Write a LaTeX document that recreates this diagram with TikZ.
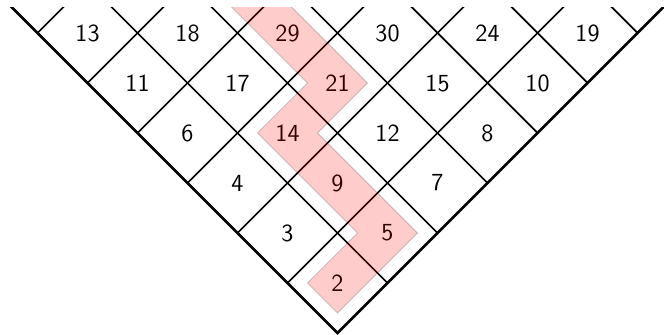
\documentclass[tikz,border=0pt]{standalone}
\usetikzlibrary{calc}
\begin{document}
\begin{tikzpicture}[
  gridline/.style={line width=1.0pt, black},
  rimline/.style={line width=1.6pt, black, line join=miter},
  num/.style={font=\sffamily\fontsize{14}{16}\selectfont, inner sep=0pt},
  pathband/.style={fill=red, draw=black, opacity=0.2, line width=0.5pt, line join=miter}
]
\useasboundingbox (0,0) rectangle (13.28,-6.7);
\coordinate (B) at (6.75,-6.66);
\clip (-1,-0.16) rectangle (14.5,-8);
% interior grid lines
\foreach \j in {1,...,6} {
  \draw[gridline] ($(B)+(\j,\j)$) -- ($(B)+(2*\j-8,8)$);
  \draw[gridline] ($(B)+(-\j,\j)$) -- ($(B)+(8-2*\j,8)$);
}
% outer rim
\draw[rimline] ($(B)+(-8,8)$) -- (B) -- ($(B)+(8,8)$);
% numbers, row 0 (bottom) to row 5 (top)
\node[num] (r0a) at ($(B)+(0,1)$) {2};
\node[num] (r1a) at ($(B)+(-1,2)$) {3};
\node[num] (r1b) at ($(B)+(1,2)$) {5};
\node[num] (r2a) at ($(B)+(-2,3)$) {4};
\node[num] (r2b) at ($(B)+(0,3)$) {9};
\node[num] (r2c) at ($(B)+(2,3)$) {7};
\node[num] (r3a) at ($(B)+(-3,4)$) {6};
\node[num] (r3b) at ($(B)+(-1,4)$) {14};
\node[num] (r3c) at ($(B)+(1,4)$) {12};
\node[num] (r3d) at ($(B)+(3,4)$) {8};
\node[num] (r4a) at ($(B)+(-4,5)$) {11};
\node[num] (r4b) at ($(B)+(-2,5)$) {17};
\node[num] (r4c) at ($(B)+(0,5)$) {21};
\node[num] (r4d) at ($(B)+(2,5)$) {15};
\node[num] (r4e) at ($(B)+(4,5)$) {10};
\node[num] (r5a) at ($(B)+(-5,6)$) {13};
\node[num] (r5b) at ($(B)+(-3,6)$) {18};
\node[num] (r5c) at ($(B)+(-1,6)$) {29};
\node[num] (r5d) at ($(B)+(1,6)$) {30};
\node[num] (r5e) at ($(B)+(3,6)$) {24};
\node[num] (r5f) at ($(B)+(5,6)$) {19};
% highlighted path
\path[pathband] ($(B)+(-2.6,7)$) -- ($(B)+(-2,7.6)$) -- ($(B)+(0.6,5)$)
  -- ($(B)+(-0.4,4)$) -- ($(B)+(1.6,2)$) -- ($(B)+(0,0.4)$)
  -- ($(B)+(-0.6,1)$) -- ($(B)+(0.4,2)$) -- ($(B)+(-1.6,4)$)
  -- ($(B)+(-0.6,5)$) -- cycle;
\end{tikzpicture}
\end{document}
